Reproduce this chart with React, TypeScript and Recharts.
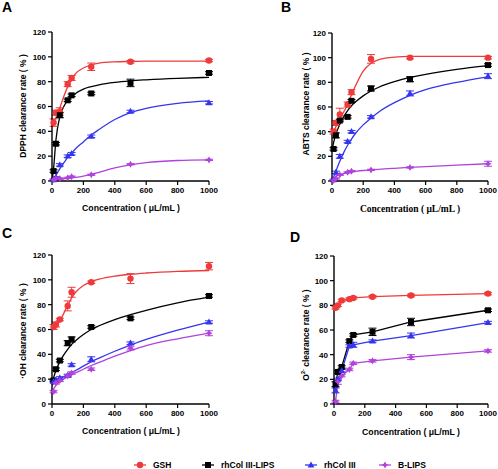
import React from "react";
import { ComposedChart, Line, Scatter, XAxis, YAxis, ErrorBar } from "recharts";

const RED = "#ef3a3c";
const BLACK = "#000000";
const BLUE = "#3535ee";
const PURPLE = "#b043dc";

// concentrations (µL/mL) of the measured points
const CONC = [10, 25, 50, 100, 125, 250, 500, 1000];
const FIT_X = [0, 10, 25, 50, 75, 100, 125, 150, 200, 250, 300, 400, 500, 600, 800, 1000];
const X_TICKS = [0, 200, 400, 600, 800, 1000];
const Y_TICKS = [0, 20, 40, 60, 80, 100, 120];

// A - DPPH
const A_GSH = [47, 55, 56, 78, 83, 92, 96, 97];
const A_GSH_ERR = [3, 2, 3, 2, 2, 3, 1, 1];
const A_LIPS = [8, 30, 53, 65, 69, 70.5, 79, 87];
const A_LIPS_ERR = [1, 1, 2, 1, 1, 1, 3, 1];
const A_COL = [1, 3, 13, 20, 22, 36, 56, 63];
const A_COL_ERR = [0.5, 0.5, 1, 1, 1, 1, 1, 1];
const A_BLIPS = [1, 2, 2, 2.5, 3.5, 5, 13.5, 17];
const A_BLIPS_ERR = [0.5, 0.5, 0.5, 0.5, 0.5, 0.5, 0.5, 0.5];
const A_GSH_FIT = [44, 47, 51, 59, 68, 76, 82, 86.5, 91, 93.5, 95, 96, 96.3, 96.5, 96.6, 96.6];
const A_LIPS_FIT = [0, 10, 33, 52, 60, 65, 68, 70.5, 74, 76, 77.5, 79.5, 80.7, 81.5, 82.7, 83.5];
const A_COL_FIT = [0, 1.5, 4.5, 10, 14.5, 19, 22.5, 26, 31.5, 37, 41.5, 49.5, 55, 58.5, 62.5, 64.5];
const A_BLIPS_FIT = [1, 1, 1.2, 1.5, 1.8, 2.2, 2.6, 3, 4, 5.3, 7, 10.5, 13, 14.8, 16.5, 17];

// B - ABTS
const B_GSH = [40, 47, 54, 62, 72, 99, 100, 100];
const B_GSH_ERR = [2, 2, 5, 2, 2, 3.5, 1, 1];
const B_LIPS = [26, 37, 49, 52, 65, 75, 82.5, 94];
const B_LIPS_ERR = [1, 2, 1, 1, 1, 2, 2, 1];
const B_COL = [1, 7, 20, 32, 40, 52, 71, 85];
const B_COL_ERR = [0.5, 1, 1.5, 1, 1, 1, 2, 2];
const B_BLIPS = [0.5, 2, 5, 7, 8, 9, 11, 14];
const B_BLIPS_ERR = [0.3, 0.5, 0.5, 0.5, 0.5, 0.5, 0.5, 2];
const B_GSH_FIT = [37, 40, 44, 50, 56, 62, 70, 77, 89, 95.5, 98.5, 100.5, 101, 101, 101, 101];
const B_LIPS_FIT = [25, 31, 38, 46, 52, 57, 61, 64, 69, 73, 76, 80.5, 84, 86.5, 90.5, 93.5];
const B_COL_FIT = [0, 3, 8, 16, 23, 29, 34, 38.5, 45.5, 51, 56, 63.5, 69.5, 74, 80, 84.5];
const B_BLIPS_FIT = [0, 2, 3.5, 5, 6, 6.8, 7.4, 7.8, 8.5, 9, 9.5, 10.3, 11, 11.7, 12.9, 14];

// C - ·OH
const C_GSH = [62, 64, 68, 79, 90, 98, 101, 111];
const C_GSH_ERR = [2, 2, 1, 4, 4, 1, 4, 3];
const C_LIPS = [19, 28, 35, 49, 52, 62, 69, 87];
const C_LIPS_ERR = [1, 1, 1, 2, 2, 1, 1, 1];
const C_COL = [18, 19, 21, 23, 31.5, 36, 49, 66];
const C_COL_ERR = [1, 1, 1, 1, 1, 2, 1, 1];
const C_BLIPS = [10, 17, 19, 22.5, 25, 28, 45, 57];
const C_BLIPS_ERR = [1, 1, 1, 1, 1, 1, 1.5, 2];
const C_GSH_FIT = [60, 61, 63, 67, 73, 79.5, 85.5, 90, 95.5, 98.5, 100.5, 103, 104.5, 105.5, 106.8, 107.5];
const C_LIPS_FIT = [16, 21, 27, 34, 39.5, 44, 48, 51, 56, 60, 63, 68, 72, 75.5, 81.5, 86];
const C_COL_FIT = [15, 16.5, 18, 20, 22, 24, 25.5, 27, 30.5, 34, 37, 42.5, 47.5, 52, 59.5, 66];
const C_BLIPS_FIT = [9, 12, 15, 18, 20, 22, 23.5, 25, 28, 31, 33.5, 38.5, 43, 47, 52.5, 57];

// D - O2·- (points joined, no fit)
const D_GSH = [78, 80, 84, 85, 86, 87, 88, 89.5];
const D_GSH_ERR = [1, 1, 1, 1, 1, 1, 1, 1];
const D_LIPS = [16, 26, 30, 51, 56, 58.5, 66.5, 76];
const D_LIPS_ERR = [2, 1, 1, 1, 1, 3, 3, 1];
const D_COL = [11, 20, 27, 47, 48, 51, 55.5, 66];
const D_COL_ERR = [2, 1, 1, 1, 2, 1, 2, 1];
const D_BLIPS = [2, 18, 23, 28, 33, 35, 38, 43];
const D_BLIPS_ERR = [1, 2, 1, 1, 1, 1, 2, 1];

const LEGEND = ["GSH", "rhCol III-LIPS", "rhCol III", "B-LIPS"];
const COLORS = [RED, BLACK, BLUE, PURPLE];

const pts = (ys: number[], es: number[]) => CONC.map((x, i) => ({ x, y: ys[i], e: es[i] }));
const fit = (ys: number[]) => FIT_X.map((x, i) => ({ x, y: ys[i] }));

function marker(kind: number, cx: number, cy: number, color: string) {
  if (kind === 0) return <circle cx={cx} cy={cy} r={3.2} fill={color} />;
  if (kind === 1) return <rect x={cx - 3} y={cy - 3} width={6} height={6} fill={color} />;
  if (kind === 2)
    return <polygon points={`${cx},${cy - 3.6} ${cx + 3.4},${cy + 2.4} ${cx - 3.4},${cy + 2.4}`} fill={color} />;
  return (
    <polygon
      points={`${cx},${cy - 3.5} ${cx + 1.3},${cy - 1.3} ${cx + 3.5},${cy} ${cx + 1.3},${cy + 1.3} ${cx},${cy + 3.5} ${cx - 1.3},${cy + 1.3} ${cx - 3.5},${cy} ${cx - 1.3},${cy - 1.3}`}
      fill={color}
    />
  );
}

interface PanelProps {
  left: number
  top: number
  width: number
  height: number
  margin: { top: number; right: number; bottom: number; left: number }
  xAxisHeight: number
  points: { x: number; y: number; e: number }[][]
  fits?: { x: number; y: number }[][]
}

function Panel({ left, top, width, height, margin, xAxisHeight, points, fits }: PanelProps) {
  const tick = { fontSize: 8, fontWeight: 700, fill: "#000" };
  return (
    <div style={{ position: "absolute", left, top }}>
      <ComposedChart width={width} height={height} margin={margin}>
        <XAxis
          type="number"
          dataKey="x"
          domain={[0, 1000]}
          ticks={X_TICKS}
          interval={0}
          height={xAxisHeight}
          tick={tick}
          tickSize={4}
          tickMargin={2}
          axisLine={{ stroke: "#000", strokeWidth: 1.4 }}
          tickLine={{ stroke: "#000", strokeWidth: 1.2 }}
        />
        <YAxis
          type="number"
          dataKey="y"
          domain={[0, 120]}
          ticks={Y_TICKS}
          interval={0}
          width={30}
          tick={tick}
          tickSize={4}
          tickMargin={2}
          axisLine={{ stroke: "#000", strokeWidth: 1.4 }}
          tickLine={{ stroke: "#000", strokeWidth: 1.2 }}
        />
        {(fits ?? points).map((d, i) => (
          <Line
            key={"l" + i}
            data={d}
            dataKey="y"
            type={fits ? "monotone" : "linear"}
            stroke={COLORS[i]}
            strokeWidth={1.3}
            dot={false}
            activeDot={false}
            isAnimationActive={false}
          />
        ))}
        {points.map((d, i) => (
          <Scatter
            key={"s" + i}
            data={d}
            dataKey="y"
            fill={COLORS[i]}
            shape={(p: any) => marker(i, p.cx, p.cy, COLORS[i])}
            isAnimationActive={false}
          >
            <ErrorBar dataKey="e" direction="y" width={4} stroke={COLORS[i]} strokeWidth={1} isAnimationActive={false} />
          </Scatter>
        ))}
      </ComposedChart>
    </div>
  );
}

function YTitle({ x, y, children }: { x: number; y: number; children: React.ReactNode }) {
  return (
    <div
      style={{
        position: "absolute",
        left: x,
        top: y,
        transform: "translate(-50%, -50%) rotate(-90deg)",
        whiteSpace: "nowrap",
        fontSize: 8.5,
        fontWeight: 700,
        lineHeight: 1,
      }}
    >
      {children}
    </div>
  );
}

function XTitle({ x, y, serif }: { x: number; y: number; serif?: boolean }) {
  return (
    <div
      style={{
        position: "absolute",
        left: x,
        top: y,
        transform: "translate(-50%, -50%)",
        whiteSpace: "nowrap",
        fontSize: serif ? 9.5 : 8.7,
        fontWeight: 700,
        lineHeight: 1,
        fontFamily: serif ? "'Liberation Serif', serif" : undefined,
      }}
    >
      Concentration ( μL/mL )
    </div>
  );
}

function Letter({ x, y, text }: { x: number; y: number; text: string }) {
  return (
    <div style={{ position: "absolute", left: x, top: y, fontSize: 14, fontWeight: 700, lineHeight: 1 }}>{text}</div>
  );
}

const LEGEND_X = [140, 208, 311, 385];

export default function App() {
  return (
    <div
      style={{
        position: "absolute",
        left: 0,
        top: 0,
        width: 498,
        height: 469,
        background: "#fff",
        fontFamily: "'Liberation Sans', Arial, sans-serif",
        color: "#000",
        overflow: "hidden",
      }}
    >
      <Panel
        left={0}
        top={0}
        width={249}
        height={215}
        margin={{ top: 32, right: 40, left: 22, bottom: 0 }}
        xAxisHeight={34}
        points={[pts(A_GSH, A_GSH_ERR), pts(A_LIPS, A_LIPS_ERR), pts(A_COL, A_COL_ERR), pts(A_BLIPS, A_BLIPS_ERR)]}
        fits={[fit(A_GSH_FIT), fit(A_LIPS_FIT), fit(A_COL_FIT), fit(A_BLIPS_FIT)]}
      />
      <Panel
        left={248}
        top={0}
        width={250}
        height={215}
        margin={{ top: 33, right: 10, left: 54, bottom: 0 }}
        xAxisHeight={34}
        points={[pts(B_GSH, B_GSH_ERR), pts(B_LIPS, B_LIPS_ERR), pts(B_COL, B_COL_ERR), pts(B_BLIPS, B_BLIPS_ERR)]}
        fits={[fit(B_GSH_FIT), fit(B_LIPS_FIT), fit(B_COL_FIT), fit(B_BLIPS_FIT)]}
      />
      <Panel
        left={0}
        top={220}
        width={249}
        height={215}
        margin={{ top: 35, right: 40, left: 22, bottom: 0 }}
        xAxisHeight={31}
        points={[pts(C_GSH, C_GSH_ERR), pts(C_LIPS, C_LIPS_ERR), pts(C_COL, C_COL_ERR), pts(C_BLIPS, C_BLIPS_ERR)]}
        fits={[fit(C_GSH_FIT), fit(C_LIPS_FIT), fit(C_COL_FIT), fit(C_BLIPS_FIT)]}
      />
      <Panel
        left={248}
        top={220}
        width={250}
        height={215}
        margin={{ top: 36, right: 10, left: 56, bottom: 0 }}
        xAxisHeight={31}
        points={[pts(D_GSH, D_GSH_ERR), pts(D_LIPS, D_LIPS_ERR), pts(D_COL, D_COL_ERR), pts(D_BLIPS, D_BLIPS_ERR)]}
      />

      <Letter x={2} y={0} text="A" />
      <Letter x={281} y={0} text="B" />
      <Letter x={2} y={226} text="C" />
      <Letter x={290} y={230} text="D" />

      <YTitle x={23} y={106}>DPPH clearance rate ( % )</YTitle>
      <YTitle x={306} y={104}>ABTS clearance rate ( % )</YTitle>
      <YTitle x={23} y={331}>·OH clearance rate ( % )</YTitle>
      <YTitle x={306} y={335}>
        O<sup style={{ fontSize: 5.5, lineHeight: 0 }}>2-</sup> clearance rate ( % )
      </YTitle>

      <XTitle x={131} y={208} />
      <XTitle x={410} y={210} serif />
      <XTitle x={131} y={431} />
      <XTitle x={411} y={432} />

      {LEGEND.map((name, i) => (
        <div
          key={name}
          style={{
            position: "absolute",
            left: LEGEND_X[i] - 7,
            top: 460,
            display: "flex",
            alignItems: "center",
            fontSize: 8.5,
            fontWeight: 700,
            lineHeight: 1,
          }}
        >
          <svg width={14} height={10} style={{ marginRight: 6 }}>
            <line x1={1} y1={5} x2={13} y2={5} stroke={COLORS[i]} strokeWidth={1.3} />
            {marker(i, 7, 5, COLORS[i])}
          </svg>
          <span>{name}</span>
        </div>
      ))}
    </div>
  );
}
